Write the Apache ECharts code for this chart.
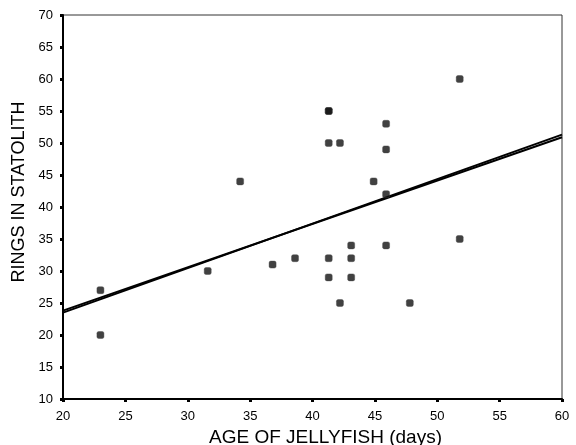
<!DOCTYPE html>
<html>
<head>
<meta charset="utf-8">
<script src="https://cdn.jsdelivr.net/npm/echarts@6/dist/echarts.min.js"></script>
<style>html,body{margin:0;padding:0;background:#fff}#c{width:576px;height:445px}</style>
</head>
<body>
<div id="c"></div>
<script>
// Age of jellyfish (days)
var ages = [23.0, 23.0, 31.6, 34.2, 36.8, 38.6, 41.3, 41.3, 41.3, 41.3, 41.3, 42.2, 42.2, 43.1, 43.1, 43.1, 44.9, 45.9, 45.9, 45.9, 45.9, 47.8, 51.8, 51.8];
// Rings in statolith
var rings = [27, 20, 30, 44, 31, 32, 55, 55, 50, 32, 29, 50, 25, 34, 32, 29, 44, 53, 49, 42, 34, 25, 60, 35];
// Fitted line endpoints (two nearly-overlapping fit lines)
var fitX = [20, 60];
var fitA = [23.5, 51.3];
var fitB = [23.8, 50.9];
var xTicks = [20, 25, 30, 35, 40, 45, 50, 55, 60];
var yTicks = [10, 15, 20, 25, 30, 35, 40, 45, 50, 55, 60, 65, 70];

var pts = ages.map(function (a, i) { return [a, rings[i]]; });
var lineA = fitX.map(function (x, i) { return [x, fitA[i]]; });
var lineB = fitX.map(function (x, i) { return [x, fitB[i]]; });

var chart = echarts.init(document.getElementById('c'), null, { renderer: 'canvas' });
var font = 'Arial, "Liberation Sans", sans-serif';
chart.setOption({
  animation: false,
  backgroundColor: '#fff',
  grid: { left: 63, right: 14, top: 15, bottom: 46, show: true, borderColor: '#333', borderWidth: 1,
          containLabel: false, outerBoundsMode: 'none' },
  xAxis: {
    type: 'value', min: xTicks[0], max: xTicks[xTicks.length - 1], interval: 5,
    name: 'AGE OF JELLYFISH (days)', nameLocation: 'middle', nameGap: 28,
    nameTextStyle: { fontFamily: font, fontSize: 19, color: '#000', padding: [0, 0, 0, 26] },
    axisLine: { show: true, onZero: false, lineStyle: { color: '#000', width: 2 } },
    axisTick: { show: true, length: 3, lineStyle: { color: '#000', width: 3 } },
    axisLabel: { fontFamily: font, fontSize: 13, color: '#000', margin: 11 },
    splitLine: { show: false }
  },
  yAxis: {
    type: 'value', min: yTicks[0], max: yTicks[yTicks.length - 1], interval: 5,
    name: 'RINGS IN STATOLITH', nameLocation: 'middle', nameGap: 29,
    nameTextStyle: { fontFamily: font, fontSize: 18, color: '#000', padding: [0, 0, 0, 30] },
    axisLine: { show: true, onZero: false, lineStyle: { color: '#000', width: 2 } },
    axisTick: { show: true, length: 3, lineStyle: { color: '#000', width: 3 } },
    axisLabel: { fontFamily: font, fontSize: 13, color: '#000', margin: 10 },
    splitLine: { show: false }
  },
  series: [
    { type: 'line', data: lineA, symbol: 'none', lineStyle: { color: '#000', width: 2 }, z: 3 },
    { type: 'line', data: lineB, symbol: 'none', lineStyle: { color: '#000', width: 2 }, z: 3 },
    { type: 'scatter', data: pts, symbol: 'roundRect', symbolSize: 7,
      itemStyle: { color: '#111', borderColor: '#444', borderWidth: 0.5 }, z: 4 }
  ]
});
</script>
</body>
</html>
